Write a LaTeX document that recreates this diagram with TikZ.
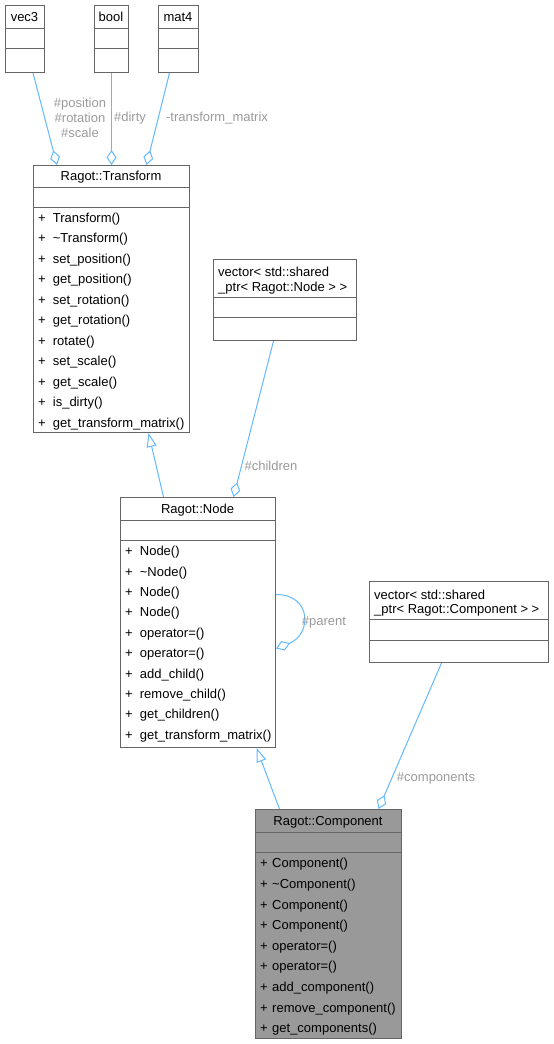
\documentclass[tikz,border=0pt]{standalone}
\usepackage{fontspec}
\setmainfont{Liberation Sans}
\usetikzlibrary{positioning}
\usetikzlibrary{arrows.meta}

\definecolor{edgeblue}{HTML}{63B8FF}
\definecolor{lblgray}{HTML}{9A9A9A}
\definecolor{boxgray}{HTML}{666666}
\definecolor{fillgray}{HTML}{999999}

\begin{document}
\begin{tikzpicture}
	[	x=1pt, y=-1pt,				% 1 пиксель = 1pt, ось y вниз
		font=\fontsize{13}{14.5}\selectfont,	% размер шрифта
		cls/.style={draw=boxgray, line width=1pt, inner sep=0pt, anchor=north west},	% рамка класса
		sep/.style={draw=boxgray, line width=1pt},			% разделитель
		member/.style={anchor=west, inner sep=0pt},			% строка метода
		lbl/.style={text=lblgray, inner sep=0pt, align=center, font=\fontsize{13}{15}\selectfont},	% подпись связи
		aggr/.style={draw=edgeblue, line width=1pt, -{Diamond[open,length=15pt,width=10pt]}},	% агрегация
		inh/.style={draw=edgeblue, line width=1pt, -{Triangle[open,length=14pt,width=10pt]}}	]	% наследование
	\useasboundingbox (0,0) rectangle (554,1044);		% поля как у оригинала

	% верхний ряд: vec3, bool, mat4
	\node[cls, minimum width=39pt, minimum height=67pt] (vecthree) at (5,5) {};
	\draw[sep] (5,28) -- (44,28);  \draw[sep] (5,48) -- (44,48);
	\node (vecthreet) at (24.5,17) {vec3};
	\node[cls, minimum width=34pt, minimum height=67pt] (bool) at (94,5) {};
	\draw[sep] (94,28) -- (128,28);  \draw[sep] (94,48) -- (128,48);
	\node (boolt) at (111,17) {bool};
	\node[cls, minimum width=40pt, minimum height=67pt] (matfour) at (158,5) {};
	\draw[sep] (158,28) -- (198,28);  \draw[sep] (158,48) -- (198,48);
	\node (matfourt) at (178,17) {mat4};

	% Ragot::Transform
	\node[cls, minimum width=156pt, minimum height=267pt] (transform) at (33,165) {};
	\draw[sep] (33,187.5) -- (189,187.5);  \draw[sep] (33,207.5) -- (189,207.5);
	\node (transformt) at (111,177.5) {Ragot::Transform};
	\foreach \m [count=\i] in {Transform(), \textasciitilde Transform(), set\_position(), get\_position(),
		set\_rotation(), get\_rotation(), rotate(), set\_scale(), get\_scale(), is\_dirty(), get\_transform\_matrix()}
		\node[member] (trm\i) at (38,198.5+20.5*\i) {\makebox[14.7pt][l]{+}\m};

	% vector< std::shared_ptr< Ragot::Node > >
	\node[cls, minimum width=143pt, minimum height=81pt] (vecnode) at (213,259) {};
	\draw[sep] (213,297) -- (356,297);  \draw[sep] (213,317) -- (356,317);
	\node[member, align=left, anchor=north west] (vecnodet) at (218,267) {vector< std::shared\\\_ptr< Ragot::Node > >};

	% Ragot::Node
	\node[cls, minimum width=155pt, minimum height=250pt] (node) at (120,497) {};
	\draw[sep] (120,520.5) -- (275,520.5);  \draw[sep] (120,540.5) -- (275,540.5);
	\node (nodet) at (197.5,510.5) {Ragot::Node};
	\foreach \m [count=\i] in {Node(), \textasciitilde Node(), Node(), Node(), operator=(), operator=(),
		add\_child(), remove\_child(), get\_children(), get\_transform\_matrix()}
		\node[member] (ndm\i) at (125,532+20.4*\i) {\makebox[14.7pt][l]{+}\m};

	% vector< std::shared_ptr< Ragot::Component > >
	\node[cls, minimum width=179pt, minimum height=81pt] (veccomp) at (369,581) {};
	\draw[sep] (369,619) -- (548,619);  \draw[sep] (369,640) -- (548,640);
	\node[member, align=left, anchor=north west] (veccompt) at (374,589.5) {vector< std::shared\\\_ptr< Ragot::Component > >};

	% Ragot::Component (выделен серым)
	\node[cls, fill=fillgray, minimum width=146pt, minimum height=229pt] (component) at (255,809) {};
	\draw[sep] (255,832) -- (401,832);  \draw[sep] (255,852) -- (401,852);
	\node (componentt) at (328,822.5) {Ragot::Component};
	\foreach \m [count=\i] in {Component(), \textasciitilde Component(), Component(), Component(), operator=(),
		operator=(), add\_component(), remove\_component(), get\_components()}
		\node[member] (cpm\i) at (260,844+20.6*\i) {\makebox[12pt][l]{+}\m};

	% связи
	\draw[aggr] ([xshift=8pt]vecthree.south) -- ([xshift=-54.5pt]transform.north);
	\draw[aggr] (bool.south) -- (transform.north);
	\draw[aggr] ([xshift=-9pt]matfour.south) -- ([xshift=35pt]transform.north);
	\draw[aggr] ([xshift=-11.5pt]vecnode.south) -- ([xshift=35.5pt]node.north);
	\draw[inh] ([xshift=-34.5pt]node.north) -- ([xshift=37pt]transform.south);
	\draw[aggr] ([yshift=28pt]node.east) .. controls +(36pt,0pt) and +(36pt,14pt) .. ([yshift=-26pt]node.east);
	\draw[aggr] ([xshift=-17.5pt]veccomp.south) -- ([xshift=50pt]component.north);
	\draw[inh] ([xshift=-49pt]component.north) -- ([xshift=58.5pt]node.south);

	% подписи
	\node[lbl] (lpos) at (80,118) {\#position\\\#rotation\\\#scale};
	\node[lbl] (ldirty) at (130,118) {\#dirty};
	\node[lbl] (lmat) at (217,118) {-transform\_matrix};
	\node[lbl] (lchild) at (271,466) {\#children};
	\node[lbl] (lparent) at (324,622) {\#parent};
	\node[lbl] (lcomp) at (436,778) {\#components};
\end{tikzpicture}
\end{document}
